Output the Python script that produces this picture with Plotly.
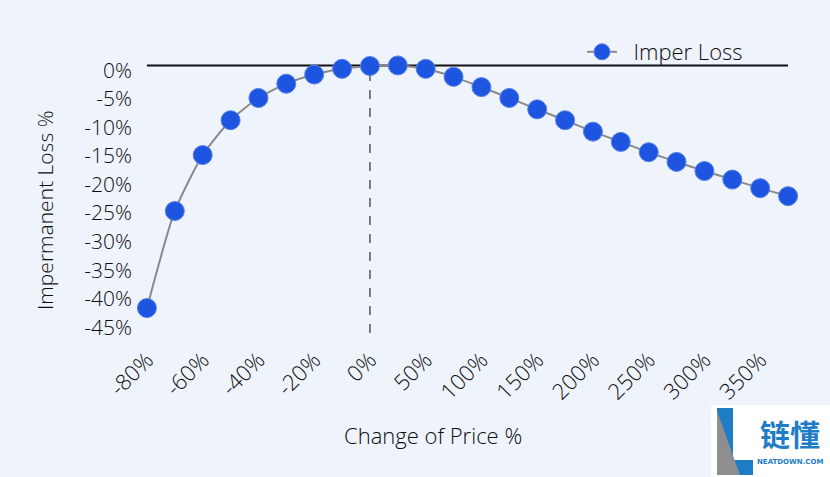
import plotly.graph_objects as go

categories = ["-80%", "-70%", "-60%", "-50%", "-40%", "-30%", "-20%", "-10%",
              "0%", "25%", "50%", "75%", "100%", "125%", "150%", "175%",
              "200%", "225%", "250%", "275%", "300%", "325%", "350%", "375%"]
imper_loss = [-42.5, -25.5, -15.7, -9.6, -5.7, -3.2, -1.6, -0.6,
              -0.1, 0.0, -0.6, -2.0, -3.8, -5.7, -7.7, -9.6,
              -11.6, -13.4, -15.2, -16.9, -18.5, -20.0, -21.5, -22.9]
x_tick_labels = ["-80%", "-60%", "-40%", "-20%", "0%", "50%", "100%",
                 "150%", "200%", "250%", "300%", "350%"]
y_tick_vals = [0, -5, -10, -15, -20, -25, -30, -35, -40, -45]
y_tick_text = ["0%", "-5%", "-10%", "-15%", "-20%", "-25%", "-30%", "-35%", "-40%", "-45%"]

W, H = 830, 477
L, R, T, B = 133, 28, 54, 141
PW, PH = W - L - R, H - T - B


def px(x):
    return (x - L) / PW


def py(y):
    return (H - B - y) / PH


FONT = "Open Sans"
TXT = "#0d0d0d"
BG = "#EEF3FC"
LOGO_BLUE = "#1f7cc6"

fig = go.Figure()
fig.add_trace(go.Scatter(
    x=categories, y=imper_loss, mode="lines+markers",
    name="\u00a0\u00a0Imper Loss",
    line=dict(color="#8a8a8a", width=2, shape="spline", smoothing=0.6),
    marker=dict(color="#1d55e0", size=19, line=dict(color="#5580e8", width=1)),
    cliponaxis=False,
))

# zero line and dashed vertical line at 0%
fig.add_shape(type="line", xref="x", yref="y", x0=0, x1=len(categories) - 1,
              y0=0, y1=0, line=dict(color="#111111", width=2), layer="below")
fig.add_shape(type="line", xref="x", yref="paper", x0=categories.index("0%"),
              x1=categories.index("0%"), y0=py(333), y1=py(66),
              line=dict(color="#555555", width=1.5, dash="dash"), layer="below")

# logo box
fig.add_shape(type="rect", xref="paper", yref="paper", x0=px(711), x1=px(830),
              y0=py(477), y1=py(405), fillcolor="white", line=dict(width=0), layer="above")
fig.add_shape(type="path", xref="paper", yref="paper",
              path=f"M {px(717)} {py(408)} L {px(733)} {py(408)} L {px(733)} {py(460)} "
                   f"L {px(753)} {py(460)} L {px(753)} {py(475)} L {px(717)} {py(475)} Z",
              fillcolor=LOGO_BLUE, line=dict(width=0), layer="above")
fig.add_shape(type="path", xref="paper", yref="paper",
              path=f"M {px(717)} {py(411)} L {px(740)} {py(475)} L {px(717)} {py(475)} Z",
              fillcolor="#8e8e8e", line=dict(width=0), layer="above")

annotations = [
    dict(text="Change of Price %", x=px(433), y=py(435), xref="paper", yref="paper",
         showarrow=False, font=dict(family=FONT, size=22, color=TXT, weight=300),
         xanchor="center", yanchor="middle"),
    dict(text="Impermanent Loss %", x=px(45), y=py(210), xref="paper", yref="paper",
         showarrow=False, textangle=-90, font=dict(family=FONT, size=21, color=TXT, weight=300),
         xanchor="center", yanchor="middle"),
    dict(text="<b>链懂</b>", x=px(790), y=py(433), xref="paper", yref="paper",
         showarrow=False, font=dict(family="Noto Sans CJK SC", size=30, color=LOGO_BLUE),
         xanchor="center", yanchor="middle"),
    dict(text="<b>NEATDOWN.COM</b>", x=px(790), y=py(462), xref="paper", yref="paper",
         showarrow=False, font=dict(family="DejaVu Sans", size=7, color=LOGO_BLUE),
         xanchor="center", yanchor="middle"),
]

fig.update_layout(
    width=W, height=H,
    margin=dict(l=L, r=R, t=T, b=B),
    paper_bgcolor=BG, plot_bgcolor=BG,
    font=dict(family=FONT, size=19, color=TXT, weight=300),
    showlegend=True,
    legend=dict(x=px(582), y=py(52), xanchor="left", yanchor="middle",
                bgcolor="rgba(0,0,0,0)",
                font=dict(family=FONT, size=22, color=TXT, weight=300)),
    annotations=annotations,
    xaxis=dict(type="category", categoryorder="array", categoryarray=categories,
               range=[-0.5, len(categories) - 0.5],
               tickmode="array", tickvals=x_tick_labels, ticktext=x_tick_labels,
               tickangle=-45, showgrid=False, zeroline=False, showline=False,
               ticks="", ticklabelstandoff=6,
               tickfont=dict(family=FONT, size=22, color=TXT, weight=300)),
    yaxis=dict(range=[-47.4, 2], tickmode="array", tickvals=y_tick_vals, ticktext=y_tick_text,
               showgrid=False, zeroline=False, showline=False, ticks="",
               ticklabelshift=5,
               tickfont=dict(family=FONT, size=21, color=TXT, weight=300)),
)

fig.write_html("out.html")
